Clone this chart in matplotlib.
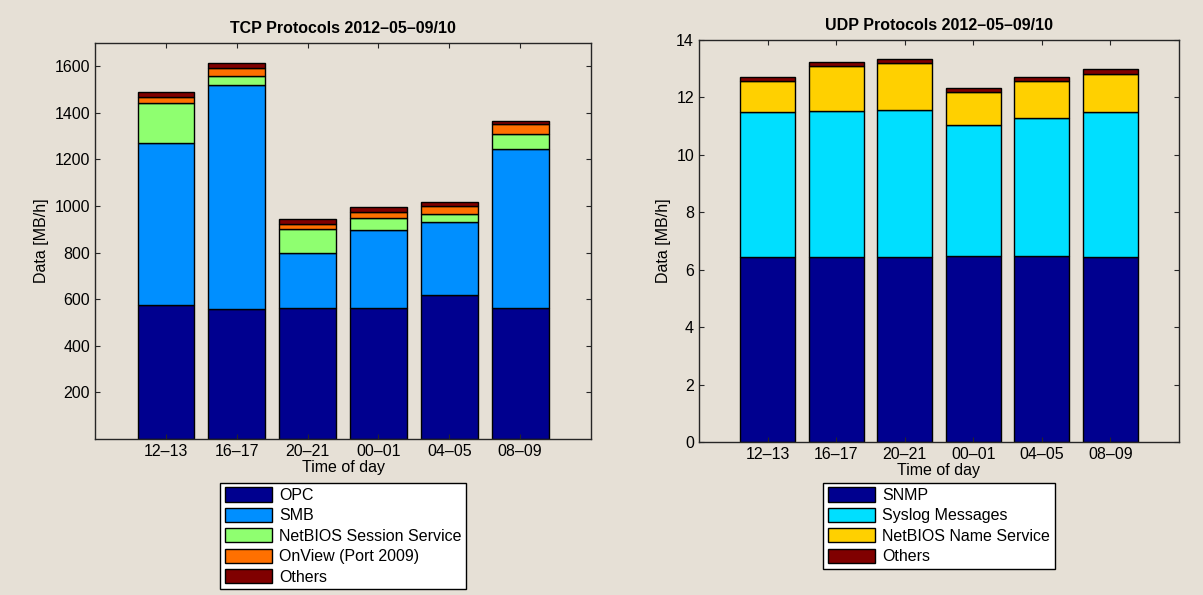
import numpy as np
import matplotlib
matplotlib.use("Agg")
import matplotlib.pyplot as plt

plt.rcParams['font.family'] = ['Liberation Sans', 'DejaVu Sans']

# Hourly samples
hours = ["12–13", "16–17", "20–21", "00–01", "04–05", "08–09"]

# TCP traffic per protocol [MB/h]
tcp_labels = ["OPC", "SMB", "NetBIOS Session Service", "OnView (Port 2009)", "Others"]
tcp_opc = [573, 556, 561, 560, 618, 561]
tcp_smb = [696, 961, 236, 336, 311, 683]
tcp_netbios = [171, 39, 103, 50, 38, 64]
tcp_onview = [28, 37, 23, 26, 32, 43]
tcp_others = [19, 19, 19, 24, 18, 14]
tcp_colors = ["#00008F", "#008FFF", "#8FFF70", "#FF7000", "#800000"]

# UDP traffic per protocol [MB/h]
udp_labels = ["SNMP", "Syslog Messages", "NetBIOS Name Service", "Others"]
udp_snmp = [6.45, 6.45, 6.45, 6.49, 6.49, 6.45]
udp_syslog = [5.04, 5.08, 5.12, 4.56, 4.78, 5.04]
udp_netbios = [1.10, 1.57, 1.62, 1.15, 1.32, 1.34]
udp_others = [0.14, 0.14, 0.14, 0.14, 0.14, 0.16]
udp_colors = ["#00008F", "#00DFFF", "#FFD000", "#800000"]

bg = "#E6E0D6"
fs = 11.5

fig = plt.figure(figsize=(12.03, 5.95), dpi=100, facecolor=bg)


def stacked(ax, series, labels, colors, title, ylim, yticks):
    x = np.arange(1, len(hours) + 1)
    bottom = np.zeros(len(hours))
    handles = []
    for vals, lab, col in zip(series, labels, colors):
        vals = np.asarray(vals, dtype=float)
        h = ax.bar(x, vals, width=0.8, bottom=bottom, color=col,
                   edgecolor="black", linewidth=1.0, label=lab)
        handles.append(h)
        bottom += vals
    ax.set_facecolor(bg)
    ax.set_xlim(0, 7)
    ax.set_ylim(*ylim)
    ax.set_xticks(x)
    ax.set_xticklabels(hours, fontsize=fs)
    ax.set_yticks(yticks)
    ax.set_yticklabels([f"{t:g}" for t in yticks], fontsize=fs)
    ax.tick_params(direction="in", length=3.5, width=0.8, top=True, right=True,
                   colors="#262626", labelcolor="black", pad=3.5)
    for sp in ax.spines.values():
        sp.set_color("#262626")
        sp.set_linewidth(1.0)
    ax.set_title(title, fontsize=fs, fontweight="bold", pad=7)
    ax.set_xlabel("Time of day", fontsize=fs, labelpad=1)
    ax.set_ylabel("Data [MB/h]", fontsize=fs, labelpad=4)
    return handles


ax1 = fig.add_axes([0.0790, 0.2622, 0.4123, 0.6660])
h1 = stacked(ax1, [tcp_opc, tcp_smb, tcp_netbios, tcp_onview, tcp_others],
             tcp_labels, tcp_colors, "TCP Protocols 2012–05–09/10",
             (0, 1700), list(range(200, 1601, 200)))

ax2 = fig.add_axes([0.5810, 0.2571, 0.3990, 0.6756])
h2 = stacked(ax2, [udp_snmp, udp_syslog, udp_netbios, udp_others],
             udp_labels, udp_colors, "UDP Protocols 2012–05–09/10",
             (0, 14), list(range(0, 15, 2)))

for ax, handles, labels in ((ax1, h1, tcp_labels), (ax2, h2, udp_labels)):
    pos = ax.get_position()
    cx = pos.x0 + pos.width / 2
    leg = fig.legend(handles, labels, loc="upper center",
                     bbox_to_anchor=(cx, 1 - 482.5 / 595),
                     bbox_transform=fig.transFigure,
                     fontsize=fs, frameon=True, fancybox=False, shadow=False,
                     framealpha=1, edgecolor="black", facecolor="white",
                     handlelength=2.95, handleheight=1.0, handletextpad=0.45,
                     labelspacing=0.3, borderpad=0.3, borderaxespad=0)
    leg.get_frame().set_linewidth(1.0)

fig.savefig("out.png", dpi=100, facecolor=bg)
